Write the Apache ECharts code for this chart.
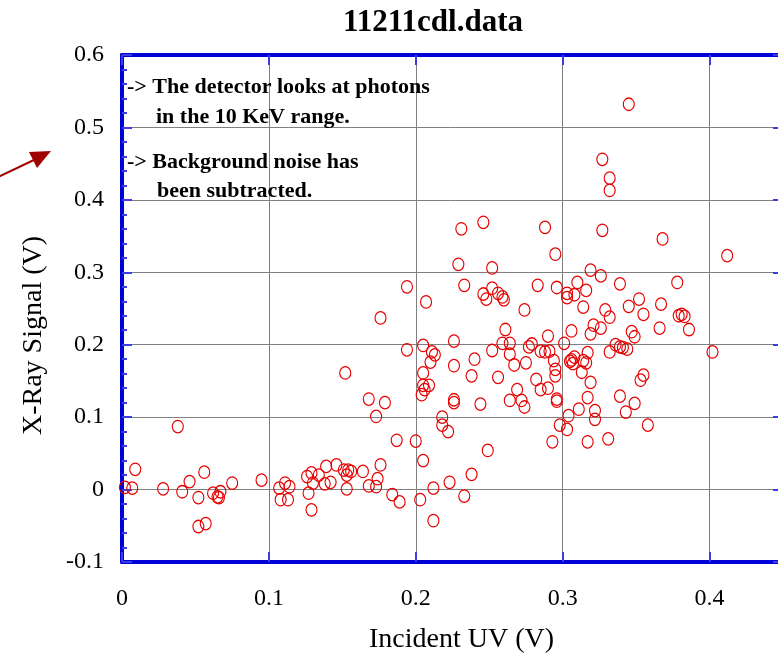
<!DOCTYPE html>
<html>
<head>
<meta charset="utf-8">
<script src="https://cdn.jsdelivr.net/npm/echarts@6/dist/echarts.min.js"></script>
<style>
html,body{margin:0;padding:0;background:#fff;}
#chart{width:778px;height:657px;}
</style>
</head>
<body>
<div id="chart"></div>
<script>
// ---- data ----
const chartTitle = '11211cdl.data';
const xAxisName = 'Incident UV (V)';
const yAxisName = 'X-Ray Signal (V)';
const noteLines = ['-> The detector looks at photons', 'in the 10 KeV range.', '-> Background noise has', 'been subtracted.'];

// Incident UV (V)
const uvValues = [
  0.002,0.007,0.009,0.038,0.028,0.041,0.046,0.056,0.052,0.052,
  0.057,0.062,0.065,0.066,0.067,0.075,0.095,0.107,0.108,0.111,
  0.113,0.114,0.126,0.129,0.127,0.129,0.130,0.134,0.139,0.138,
  0.142,0.146,0.151,0.153,0.154,0.156,0.153,0.164,0.168,0.179,
  0.173,0.176,0.174,0.168,0.173,0.187,0.184,0.189,0.152,0.194,
  0.176,0.194,0.205,0.209,0.204,0.206,0.238,0.256,0.226,0.226,
  0.244,0.264,0.269,0.272,0.274,0.282,0.285,0.290,0.218,0.218,
  0.222,0.200,0.205,0.249,0.238,0.223,0.212,0.233,0.203,0.212,
  0.231,0.246,0.288,0.295,0.229,0.252,0.233,0.246,0.248,0.252,
  0.256,0.259,0.260,0.283,0.296,0.207,0.274,0.261,0.290,0.205,
  0.226,0.211,0.213,0.210,0.259,0.264,0.252,0.264,0.277,0.279,
  0.285,0.288,0.291,0.294,0.295,0.295,0.301,0.240,0.226,0.205,
  0.267,0.275,0.311,0.304,0.298,0.303,0.293,0.345,0.327,0.332,
  0.332,0.327,0.368,0.412,0.319,0.326,0.310,0.303,0.303,0.308,
  0.316,0.339,0.378,0.352,0.345,0.355,0.367,0.314,0.329,0.332,
  0.379,0.381,0.383,0.386,0.366,0.321,0.319,0.326,0.306,0.347,
  0.349,0.336,0.339,0.341,0.344,0.332,0.317,0.402,0.305,0.306,
  0.307,0.308,0.314,0.316,0.313,0.319,0.355,0.353,0.296,0.296,
  0.317,0.339,0.349,0.343,0.322,0.322,0.358,0.317,0.331
];
// X-Ray Signal (V)
const xraySignal = [
  0.003,0.002,0.028,0.087,0.001,-0.003,0.011,0.024,-0.011,-0.051,
  -0.047,-0.005,-0.010,-0.011,-0.003,0.009,0.013,0.002,-0.014,0.009,
  -0.014,0.004,0.018,0.023,-0.005,-0.028,0.009,0.020,0.032,0.008,
  0.010,0.034,0.027,0.020,0.027,0.025,0.001,0.025,0.125,0.120,
  0.101,0.034,0.015,0.005,0.004,0.068,-0.007,-0.017,0.161,0.280,
  0.237,0.193,0.144,0.144,0.131,0.138,0.157,0.155,0.124,0.120,
  0.118,0.123,0.138,0.123,0.114,0.152,0.138,0.140,0.100,0.089,
  0.080,0.067,0.040,0.054,0.021,0.010,0.002,-0.009,-0.014,-0.043,
  0.360,0.369,0.362,0.325,0.311,0.306,0.282,0.270,0.263,0.278,
  0.271,0.266,0.262,0.282,0.279,0.259,0.248,0.221,0.212,0.199,
  0.205,0.190,0.186,0.176,0.202,0.202,0.192,0.187,0.197,0.201,
  0.191,0.190,0.191,0.178,0.166,0.157,0.202,0.180,0.171,0.161,
  0.172,0.175,0.111,0.102,0.089,0.083,0.066,0.532,0.456,0.430,
  0.413,0.358,0.346,0.323,0.303,0.295,0.286,0.271,0.265,0.269,
  0.275,0.284,0.286,0.263,0.253,0.242,0.256,0.252,0.248,0.238,
  0.240,0.242,0.239,0.221,0.223,0.227,0.215,0.223,0.219,0.218,
  0.211,0.200,0.197,0.196,0.194,0.190,0.189,0.190,0.177,0.179,
  0.174,0.183,0.178,0.175,0.162,0.148,0.158,0.151,0.125,0.122,
  0.127,0.129,0.119,0.107,0.109,0.097,0.089,0.066,0.070
];

const points = uvValues.map((x, i) => [x, xraySignal[i]]);

const serif = '"Liberation Serif", "Times New Roman", "DejaVu Serif", serif';
const axisBlue = '#0000d8';
const tickBlue = '#3c3ce6';

const chart = echarts.init(document.getElementById('chart'), null, {renderer: 'canvas'});

const baseAxisLine = {show: true, onZero: false, lineStyle: {color: axisBlue, width: 4}};

chart.setOption({
  animation: false,
  backgroundColor: '#ffffff',
  title: {
    text: chartTitle,
    left: 428,
    top: 2,
    textAlign: 'center',
    textStyle: {fontFamily: serif, fontWeight: 'bold', fontSize: 31, color: '#000'}
  },
  grid: {left: 122, top: 55, right: -5, bottom: 95, containLabel: false, outerBoundsMode: 'none'},
  xAxis: [
    {
      type: 'value', position: 'bottom', min: 0, max: 0.45, interval: 0.1,
      name: xAxisName, nameLocation: 'middle', nameGap: 64,
      nameTextStyle: {fontFamily: serif, fontSize: 28, color: '#000', padding: [0, 0, 0, 18]},
      axisLine: baseAxisLine,
      axisTick: {show: true, inside: true, length: 10, lineStyle: {color: tickBlue, width: 2}},
      minorTick: {show: false},
      axisLabel: {fontFamily: serif, fontSize: 24, color: '#000', margin: 25, showMaxLabel: false},
      splitLine: {show: true, lineStyle: {color: '#808080', width: 1}}
    },
    {
      type: 'value', position: 'top', min: 0, max: 0.45, interval: 0.1,
      axisLine: baseAxisLine,
      axisTick: {show: true, inside: true, length: 10, lineStyle: {color: tickBlue, width: 2}},
      axisLabel: {show: false},
      splitLine: {show: false}
    }
  ],
  yAxis: [
    {
      type: 'value', position: 'left', min: -0.1, max: 0.6, interval: 0.1,
      name: yAxisName, nameLocation: 'middle', nameGap: 74,
      nameTextStyle: {fontFamily: serif, fontSize: 28, color: '#000', padding: [0, 54, 0, 0]},
      axisLine: baseAxisLine,
      axisTick: {show: true, inside: true, length: 10, lineStyle: {color: tickBlue, width: 2}},
      minorTick: {show: true, splitNumber: 5, length: 5, lineStyle: {color: tickBlue, width: 2}},
      axisLabel: {fontFamily: serif, fontSize: 24, color: '#000', margin: 18},
      splitLine: {show: true, lineStyle: {color: '#808080', width: 1}}
    },
    {
      type: 'value', position: 'right', min: -0.1, max: 0.6, interval: 0.1,
      axisLine: baseAxisLine,
      axisTick: {show: true, inside: true, length: 10, lineStyle: {color: tickBlue, width: 2}},
      minorTick: {show: true, splitNumber: 5, length: 5, lineStyle: {color: '#9a9aee', width: 2}},
      axisLabel: {show: false},
      splitLine: {show: false}
    }
  ],
  series: [{
    type: 'scatter',
    xAxisIndex: 0, yAxisIndex: 0,
    data: points,
    symbol: 'circle',
    symbolSize: [11, 12.5],
    itemStyle: {color: 'rgba(0,0,0,0)', borderColor: '#e60000', borderWidth: 1.2, opacity: 1},
    emphasis: {disabled: true},
    z: 3
  }],
  graphic: [
    {type: 'text', left: 127, top: 76, z: 10,
      style: {text: noteLines[0], font: 'bold 22px ' + serif, fill: '#000'}},
    {type: 'text', left: 156, top: 106, z: 10,
      style: {text: noteLines[1], font: 'bold 22px ' + serif, fill: '#000'}},
    {type: 'text', left: 127, top: 151, z: 10,
      style: {text: noteLines[2], font: 'bold 22px ' + serif, fill: '#000'}},
    {type: 'text', left: 157, top: 180, z: 10,
      style: {text: noteLines[3], font: 'bold 22px ' + serif, fill: '#000'}},
    {type: 'line', z: 10,
      shape: {x1: -2, y1: 177, x2: 36, y2: 159},
      style: {stroke: '#a00000', lineWidth: 2}},
    {type: 'polygon', z: 10,
      shape: {points: [[29, 152], [51, 151], [37, 168]]},
      style: {fill: '#a00000'}}
  ]
});
</script>
</body>
</html>
